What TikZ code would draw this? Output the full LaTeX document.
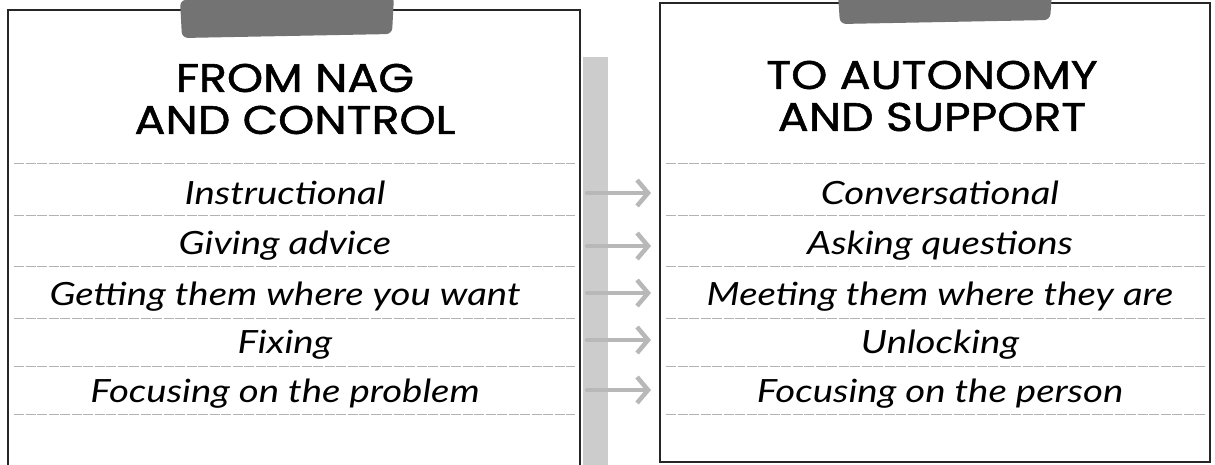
\documentclass[tikz,border=0pt]{standalone}
\usepackage{fontspec}
\setmainfont[FakeStretch=1.2]{Lato}
\newfontfamily\titlefont[FakeStretch=1.15, FakeBold=1.3]{Poppins}
\usetikzlibrary{arrows.meta}

\begin{document}
\begin{tikzpicture}[x=1pt, y=-1pt,
  card/.style={draw=black!85, line width=1.6pt, fill=white},
  ruling/.style={draw=black!30, line width=0.7pt, dash pattern=on 10pt off 1.5pt},
  tape/.style={fill=black!55, draw=none, rounded corners=6pt},
  item/.style={anchor=base, font=\fontsize{32}{32}\selectfont\itshape},
  heading/.style={align=center, font=\titlefont\fontsize{40}{42}\selectfont},
  changearrow/.style={draw=black!28, line width=4.5pt, line cap=round,
    -{Straight Barb[length=11pt, width=26pt]}}]
  \useasboundingbox (0,0) rectangle (1215,464);
  % shadow strip between the cards
  \fill[black!20] (583,57) rectangle (608,470);
  \draw[card] (8,10) rectangle (580,475);
  \draw[card] (660,3) rectangle (1210,462);
  % tape
  \fill[tape] (180,0) -- (394,-4) -- (392,34) -- (182,38) -- cycle;
  \fill[tape] (838,-6) -- (1052,-6) -- (1050,20) -- (840,24) -- cycle;
  \node[heading] (from) at (295,99) {FROM NAG\\AND CONTROL};
  \node[heading] (to) at (932,96) {TO AUTONOMY\\AND SUPPORT};
  \foreach \y in {163, 215, 266, 318, 366, 414}{
    \draw[ruling] (14,\y) -- (575,\y);
    \draw[ruling] (666,\y) -- (1205,\y);
  }
  \foreach \row/\base/\ay/\lft/\rgt in {
      1/204/193/Instructional/Conversational,
      2/254/246/Giving advice/Asking questions,
      3/305/293/Getting them where you want/Meeting them where they are,
      4/353/340/Fixing/Unlocking,
      5/402/390/Focusing on the problem/Focusing on the person}{
    \node[item] (L-\row) at (285,\base) {\lft};
    \node[item] (R-\row) at (940,\base) {\rgt};
    \coordinate (a-\row) at (587,\ay);
    \coordinate (b-\row) at (651,\ay);
    \draw[changearrow] (a-\row) -- (b-\row);
  }
\end{tikzpicture}
\end{document}
